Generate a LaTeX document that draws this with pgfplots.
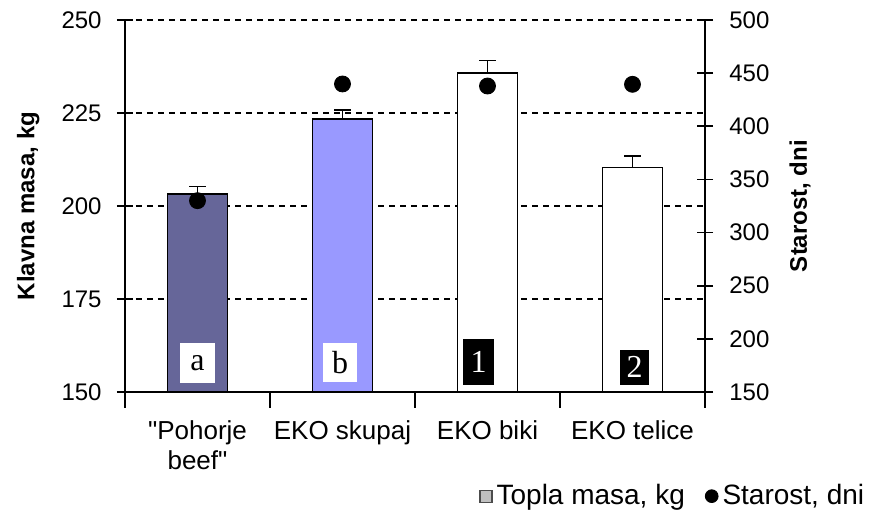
\documentclass[border=0pt]{standalone}
\usepackage{pgfplots}
\pgfplotsset{compat=1.18}
\usepackage{fontspec}
\setmainfont{Liberation Sans}
\newfontfamily\serifbox{Liberation Serif}
\definecolor{barA}{HTML}{666699}
\definecolor{barB}{HTML}{9999FF}
\definecolor{leggray}{HTML}{C0C0C0}
\begin{document}
\fontsize{12}{14}\selectfont
\begin{tikzpicture}
\pgfplotsset{common/.style={width=290pt,height=186pt,scale only axis,xmin=0.5,xmax=4.5,
  /pgf/number format/assume math mode=true,
  tick label style={font=\fontsize{12}{14}\selectfont},
  label style={font=\bfseries\fontsize{12}{14}\selectfont},
  tick align=center, major tick length=8pt,
  every tick/.style={black, line width=0.8pt},
  axis line style={line width=0.8pt, black}},
  errs/.style={error bars/.cd, y dir=plus, y explicit,
  error bar style={line width=0.8pt, black},
  error mark options={rotate=90, mark size=4.2pt, line width=0.8pt, black}}}
\begin{axis}[common, name=L,
  ymin=150, ymax=250, ytick={150,175,...,250},
  axis x line*=bottom, axis y line*=left,
  ymajorgrids, grid style={black, line width=0.6pt, dash pattern=on 3pt off 2.5pt},
  xtick={1,2,3,4},
  xticklabels={{\textquotedbl Pohorje\\beef\textquotedbl}, EKO skupaj, EKO biki, EKO telice},
  xticklabel style={align=center, anchor=north, yshift=-6pt, font=\fontsize{13}{15}\selectfont},
  major x tick style={draw=none},
  minor xtick={0.5,1.5,2.5,3.5,4.5}, minor tick length=8pt,
  minor x tick style={yshift=-4pt, black, line width=0.8pt},
  yticklabel style={xshift=-3.5pt},
  ylabel={Klavna masa, kg},
  ylabel style={at={(axis description cs:-0.167,0.5)}, anchor=center},
  ]
\addplot[ybar, bar width=30pt, bar shift=0pt, fill=barA, draw=black, line width=0.8pt, errs]
  coordinates {(1,203.2) +- (0,2.0)};
\addplot[ybar, bar width=30pt, bar shift=0pt, fill=barB, draw=black, line width=0.8pt, errs]
  coordinates {(2,223.4) +- (0,2.4)};
\addplot[ybar, bar width=30pt, bar shift=0pt, fill=white, draw=black, line width=0.8pt, errs]
  coordinates {(3,235.7) +- (0,3.4) (4,210.4) +- (0,3.0)};
\node[fill=white, minimum width=17.5pt, minimum height=20pt, inner sep=0pt, font=\serifbox\fontsize{16}{16}\selectfont] at (axis cs:1.0,157.8) {a};
\node[fill=white, minimum width=17pt, minimum height=19.5pt, inner sep=0pt, font=\serifbox\fontsize{16}{16}\selectfont] at (axis cs:1.983,157.9) {b};
\node[fill=black, text=white, minimum width=15.5pt, minimum height=23pt, inner sep=0pt, font=\serifbox\fontsize{16}{16}\selectfont] at (axis cs:2.938,158.1) {1};
\node[fill=black, text=white, minimum width=14.5pt, minimum height=17.5pt, inner sep=0pt, font=\serifbox\fontsize{16}{16}\selectfont] at (axis cs:4.014,156.7) {2};
\end{axis}
\begin{axis}[common, name=R,
  ymin=150, ymax=500, ytick={150,200,...,500},
  axis x line=none, axis y line*=right,
  yticklabel style={xshift=4pt},
  ylabel={Starost, dni},
  ylabel style={at={(axis description cs:1.164,0.5)}, anchor=center},
  legend columns=2,
  legend style={at={(0.60,-0.28)}, anchor=west, draw=none, fill=none,
    font=\fontsize{14}{16}\selectfont,
    /tikz/every even column/.append style={column sep=8pt}},
  ]
\addlegendimage{legend image code/.code={\draw[fill=leggray, draw=black!70, line width=0.6pt] (0pt,-3pt) rectangle (6pt,3pt);}}
\addlegendentry{Topla masa, kg}
\addplot[only marks, mark=*, mark size=4pt, black,
  legend image code/.code={\fill[black] (3pt,0pt) circle (3.2pt);}]
  coordinates {(1,330) (2,439.8) (3,437.9) (4,439.5)};
\addlegendentry{Starost, dni}
\end{axis}
\pgfresetboundingbox
\path[use as bounding box] ([xshift=-62.5pt,yshift=-63pt]L.south west) rectangle ([xshift=83.5pt,yshift=10pt]L.north east);
\end{tikzpicture}
\end{document}
